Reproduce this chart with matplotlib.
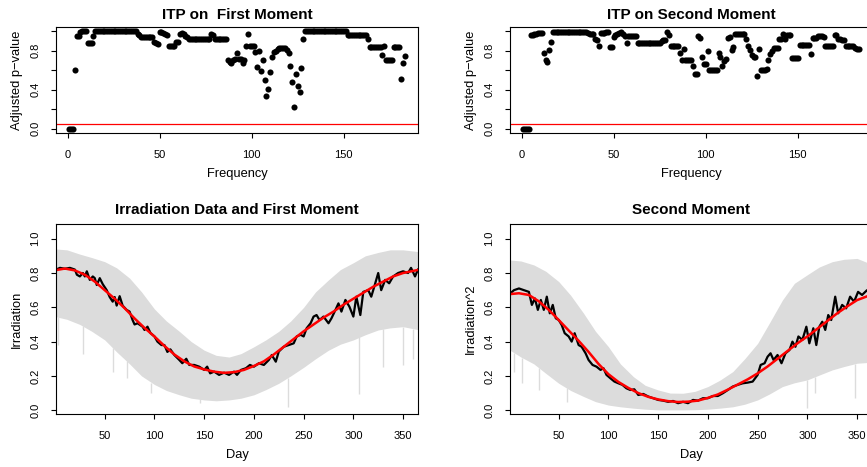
import numpy as np
import matplotlib
matplotlib.use("Agg")
import matplotlib.pyplot as plt

plt.rcParams['font.family'] = ['Liberation Sans', 'DejaVu Sans']

# ---------------- data ----------------
p_first = [
    0.00, 0.00, 0.00, 0.605, 0.955, 0.955, 0.99, 1.00, 1.00, 1.00,
    0.88, 0.88, 0.88, 0.95, 1.00, 1.00, 1.00, 1.00, 1.00, 1.00,
    1.00, 1.00, 1.00, 1.00, 1.00, 1.00, 1.00, 1.00, 1.00, 1.00,
    1.00, 1.00, 1.00, 1.00, 1.00, 1.00, 1.00, 0.97, 0.96, 0.945,
    0.945, 0.945, 0.945, 0.945, 0.945, 0.945, 0.885, 0.875, 0.87, 0.99,
    0.99, 0.985, 0.975, 0.96, 0.845, 0.845, 0.845, 0.85, 0.885, 0.89,
    0.97, 0.985, 0.975, 0.95, 0.94, 0.925, 0.925, 0.925, 0.925, 0.925,
    0.925, 0.925, 0.925, 0.925, 0.925, 0.925, 0.925, 0.97, 0.965, 0.92,
    0.92, 0.92, 0.92, 0.92, 0.92, 0.92, 0.70, 0.68, 0.67, 0.71,
    0.72, 0.775, 0.72, 0.715, 0.67, 0.70, 0.85, 0.97, 0.85, 0.85,
    0.85, 0.79, 0.63, 0.80, 0.595, 0.70, 0.50, 0.335, 0.41, 0.58,
    0.735, 0.785, 0.80, 0.815, 0.825, 0.83, 0.83, 0.825, 0.81, 0.78,
    0.645, 0.48, 0.225, 0.565, 0.435, 0.38, 0.62, 0.925, 1.00, 1.00,
    1.00, 1.00, 1.00, 1.00, 1.00, 1.00, 1.00, 1.00, 1.00, 1.00,
    1.00, 1.00, 1.00, 1.00, 1.00, 1.00, 1.00, 1.00, 1.00, 1.00,
    1.00, 0.965, 0.965, 0.965, 0.965, 0.965, 0.965, 0.965, 0.965, 0.965,
    0.965, 0.965, 0.92, 0.84, 0.84, 0.84, 0.84, 0.84, 0.84, 0.84,
    0.76, 0.85, 0.70, 0.70, 0.70, 0.70, 0.835, 0.835, 0.835, 0.835,
    0.51, 0.675, 0.75,
]

p_second = [
    0.00, 0.00, 0.00, 0.00, 0.965, 0.965, 0.97, 0.975, 0.98, 0.98,
    0.98, 0.78, 0.70, 0.68, 0.81, 0.885, 0.99, 0.99, 0.99, 0.99,
    0.99, 0.99, 0.99, 0.99, 0.99, 0.99, 0.99, 0.99, 0.99, 0.99,
    0.99, 0.99, 0.99, 0.99, 0.99, 0.98, 0.975, 0.975, 0.97, 0.92,
    0.905, 0.85, 0.98, 0.98, 0.985, 0.99, 0.99, 0.835, 0.835, 0.94,
    0.96, 0.975, 0.985, 0.99, 0.97, 0.95, 0.88, 0.955, 0.955, 0.955,
    0.955, 0.955, 0.88, 0.88, 0.88, 0.88, 0.88, 0.88, 0.88, 0.88,
    0.88, 0.88, 0.88, 0.88, 0.88, 0.90, 0.905, 0.91, 0.99, 0.965,
    0.85, 0.85, 0.85, 0.85, 0.85, 0.78, 0.71, 0.815, 0.71, 0.71,
    0.71, 0.70, 0.645, 0.565, 0.565, 0.955, 0.93, 0.735, 0.665, 0.665,
    0.80, 0.60, 0.60, 0.60, 0.60, 0.60, 0.78, 0.74, 0.64, 0.69,
    0.715, 0.93, 0.94, 0.81, 0.835, 0.97, 0.97, 0.97, 0.97, 0.97,
    0.97, 0.92, 0.85, 0.81, 0.76, 0.735, 0.735, 0.545, 0.815, 0.60,
    0.60, 0.605, 0.615, 0.70, 0.765, 0.80, 0.83, 0.83, 0.83, 0.915,
    0.915, 0.97, 0.915, 0.965, 0.965, 0.96, 0.725, 0.725, 0.725, 0.725,
    0.86, 0.86, 0.86, 0.86, 0.86, 0.86, 0.765, 0.93, 0.93, 0.93,
    0.955, 0.955, 0.95, 0.94, 0.85, 0.85, 0.85, 0.85, 0.85, 0.965,
    0.965, 0.92, 0.915, 0.91, 0.905, 0.845, 0.845, 0.845, 0.845, 0.845,
    0.825, 0.82, 0.82,
]

freq_ticks = [0, 50, 100, 150]
p_ticks = [0.0, 0.2, 0.4, 0.6, 0.8, 1.0]
p_tick_labels = ['0.0', '', '0.4', '', '0.8', '']
alpha_level = 0.05

day_ticks = [50, 100, 150, 200, 250, 300, 350]
irr_ticks = [0.0, 0.2, 0.4, 0.6, 0.8, 1.0]
irr_tick_labels = ['0.0', '0.2', '0.4', '0.6', '0.8', '1.0']

# gray bundle envelopes
env_days = [1, 12, 25, 37, 50, 62, 75, 87, 100, 112,
            125, 137, 150, 162, 175, 187, 200, 212, 225, 237,
            250, 262, 275, 287, 300, 312, 325, 337, 350, 365]
m1_upper = [.94, .935, .91, .89, .866, .83, .77, .69, .59, .52,
            .46, .40, .35, .32, .31, .33, .37, .41, .46, .52,
            .60, .69, .76, .82, .86, .90, .92, .935, .935, .925]
m1_lower = [.545, .53, .50, .46, .41, .34, .27, .20, .15, .115,
            .09, .07, .06, .055, .06, .07, .09, .12, .157, .20,
            .25, .30, .35, .385, .41, .44, .468, .48, .487, .47]
m2_upper = [.876, .87, .847, .81, .75, .67, .565, .46, .37, .27,
            .196, .145, .118, .10, .099, .11, .138, .175, .225, .30,
            .39, .51, .643, .74, .79, .835, .866, .88, .885, .85]
m2_lower = [.35, .31, .27, .215, .157, .115, .08, .05, .03, .02,
            .012, .006, .002, .002, .002, .003, .006, .012, .02, .035,
            .06, .095, .138, .16, .177, .205, .235, .255, .274, .28]

m1_spike_days = [3, 28, 58, 72, 97, 146, 234, 306, 330, 350, 360]
m1_spike_lows = [.38, .33, .225, .186, .10, .04, .017, .095, .254, .264, .30]
m2_spike_days = [5, 13, 30, 58, 300, 308, 348]
m2_spike_lows = [.225, .157, .118, .05, .012, .10, .07]

# black observed curves
m1_days = [1, 5, 10, 15, 20, 22, 25, 28, 30, 32,
           35, 38, 40, 42, 45, 48, 52, 55, 58, 60,
           62, 65, 68, 72, 75, 78, 80, 83, 88, 90,
           93, 96, 100, 103, 107, 110, 113, 116, 120, 125,
           128, 132, 135, 140, 145, 150, 153, 156, 160, 165,
           170, 175, 180, 183, 187, 192, 196, 200, 205, 210,
           215, 218, 222, 225, 230, 235, 240, 243, 247, 250,
           253, 257, 260, 263, 266, 270, 275, 278, 282, 285,
           288, 292, 296, 300, 303, 307, 310, 315, 318, 321,
           325, 328, 332, 336, 340, 345, 350, 355, 358, 362,
           365]
m1_obs = [.82, .83, .825, .83, .82, .79, .78, .80, .78, .81,
          .76, .78, .77, .73, .77, .735, .70, .66, .633, .66,
          .61, .665, .61, .585, .575, .526, .50, .507, .487, .468,
          .487, .45, .43, .40, .38, .38, .34, .355, .322, .293,
          .274, .30, .264, .264, .254, .235, .254, .215, .225, .206,
          .219, .206, .225, .206, .235, .245, .264, .254, .274, .264,
          .293, .322, .283, .342, .37, .38, .39, .43, .44, .43,
          .478, .507, .546, .555, .526, .546, .507, .536, .585, .623,
          .575, .643, .604, .546, .662, .555, .69, .70, .662, .72,
          .80, .70, .76, .74, .78, .80, .81, .80, .83, .78,
          .82]

m2_days = [1, 5, 10, 15, 20, 23, 26, 29, 32, 35,
           38, 41, 44, 47, 50, 53, 56, 60, 63, 66,
           70, 73, 77, 80, 84, 88, 92, 95, 98, 102,
           106, 110, 114, 118, 122, 126, 130, 135, 140, 145,
           150, 155, 160, 165, 170, 175, 180, 185, 190, 195,
           200, 205, 210, 215, 220, 225, 230, 235, 240, 245,
           250, 253, 257, 260, 263, 266, 270, 274, 278, 282,
           285, 288, 291, 295, 299, 302, 306, 309, 312, 315,
           318, 321, 324, 328, 331, 335, 339, 343, 347, 351,
           355, 360, 365]
m2_obs = [.68, .70, .71, .70, .69, .614, .652, .585, .643, .585,
          .662, .565, .614, .536, .526, .497, .449, .43, .40, .449,
          .38, .37, .332, .293, .264, .254, .235, .245, .206, .186,
          .167, .157, .148, .128, .118, .122, .089, .095, .08, .07,
          .06, .056, .049, .054, .041, .049, .041, .06, .056, .07,
          .07, .083, .083, .099, .118, .138, .148, .157, .161, .167,
          .206, .264, .274, .312, .332, .293, .322, .274, .332, .351,
          .40, .37, .43, .41, .487, .39, .478, .38, .487, .516,
          .468, .555, .526, .662, .565, .614, .594, .662, .633, .69,
          .672, .70, .66]

# red smooth moment curves
fit_days = [1, 10, 20, 30, 40, 50, 60, 70, 80, 90, 100, 110, 120, 130, 140, 150, 160, 170, 180,
            190, 200, 210, 220, 230, 240, 250, 260, 270, 280, 290, 300, 310, 320, 330, 340, 350, 365]
m1_fit = [.817, .826, .815, .79, .75, .70, .65, .595, .535, .48, .43, .375, .325, .285, .255, .238,
          .225, .218, .222, .235, .258, .285, .325, .37, .415, .46, .50, .54, .575, .615, .65, .685,
          .72, .75, .78, .80, .818]
m2_fit = [.677, .682, .672, .635, .585, .526, .465, .405, .34, .27, .21, .165, .13, .10, .078, .063,
          .053, .048, .05, .056, .072, .092, .12, .15, .18, .215, .255, .30, .345, .39, .43, .475,
          .52, .565, .605, .642, .675]

# ---------------- figure ----------------
W, H = 867, 467
fig = plt.figure(figsize=(W / 100, H / 100), dpi=100)


def px_axes(x0, y0, x1, y1):
    return fig.add_axes([x0 / W, 1 - y1 / H, (x1 - x0) / W, (y1 - y0) / H])


PT = 0.72  # pt per px
TICK_FS = 8
LAB_FS = 9.3
TITLE_FS = 11
BAND = '#dcdcdc'


def style(ax, title, xlabel, ylabel, wpx, hpx, title_off):
    for s in ax.spines.values():
        s.set_linewidth(0.8)
        s.set_color('black')
    ax.tick_params(axis='both', direction='out', length=5 * PT, width=0.8,
                   labelsize=TICK_FS, color='black')
    ax.tick_params(axis='x', pad=12 * PT)
    ax.tick_params(axis='y', pad=10.5 * PT)
    ax.set_xlabel(xlabel, fontsize=LAB_FS, va='center')
    ax.xaxis.set_label_coords(0.5, -40.8 / hpx)
    ax.set_ylabel(ylabel, fontsize=LAB_FS, va='center', ha='center')
    ax.yaxis.set_label_coords(-39.3 / wpx, 0.5)
    ax.text(0.5, 1 + title_off / hpx, title, transform=ax.transAxes,
            ha='center', va='center', fontsize=TITLE_FS, fontweight='bold')


def pval_panel(ax, pvals, title):
    f = np.arange(1, len(pvals) + 1)
    ax.plot(f, pvals, 'o', color='black', ms=4.4, mew=0)
    ax.axhline(alpha_level, color='red', lw=0.9)
    ax.set_xlim(-6.28, 190.28)
    ax.set_ylim(-0.04, 1.04)
    ax.set_xticks(freq_ticks)
    ax.set_yticks(p_ticks)
    ax.set_yticklabels(p_tick_labels, rotation=90, va='center')
    style(ax, title, 'Frequency', 'Adjusted p\u2212value', 362, 105.4, 12.5)


def curve_panel(ax, up, lo, sd, sl, obs_d, obs, fit, title, ylabel):
    ax.fill_between(env_days, lo, up, color=BAND, lw=0)
    tops = np.interp(sd, env_days, lo)
    ax.vlines(sd, sl, tops, color=BAND, lw=1.0)
    ax.plot(obs_d, obs, color='black', lw=1.6)
    ax.plot(fit_days, fit, color='red', lw=1.8)
    ax.set_xlim(1, 365)
    ax.set_ylim(-0.022, 1.084)
    ax.set_xticks(day_ticks)
    ax.set_yticks(irr_ticks)
    ax.set_yticklabels(irr_tick_labels, rotation=90, va='center')
    style(ax, title, 'Day', ylabel, 362, 189.7, 13.8)


ax1 = px_axes(56, 27.3, 418, 132.7)
pval_panel(ax1, p_first, 'ITP on  First Moment')
ax2 = px_axes(510, 27.3, 872, 132.7)
pval_panel(ax2, p_second, 'ITP on Second Moment')

ax3 = px_axes(56, 224.3, 418, 414)
curve_panel(ax3, m1_upper, m1_lower, m1_spike_days, m1_spike_lows, m1_days, m1_obs, m1_fit,
            'Irradiation Data and First Moment', 'Irradiation')
ax4 = px_axes(510, 224.3, 872, 414)
curve_panel(ax4, m2_upper, m2_lower, m2_spike_days, m2_spike_lows, m2_days, m2_obs, m2_fit,
            'Second Moment', 'Irradiation^2')

fig.savefig('out.png', dpi=100)
